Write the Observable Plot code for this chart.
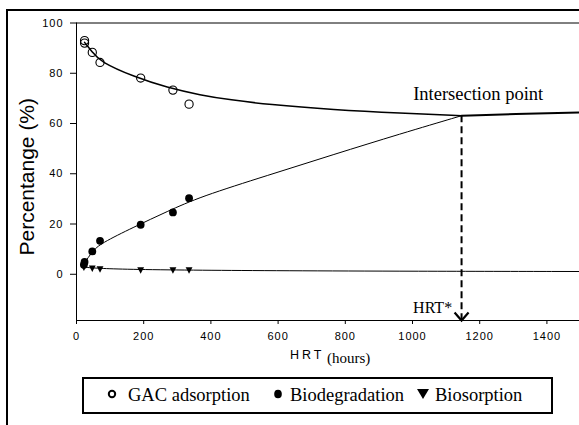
<!DOCTYPE html>
<html>
<head>
<meta charset="utf-8">
<script src="https://cdn.jsdelivr.net/npm/d3@7"></script>
<script src="https://cdn.jsdelivr.net/npm/@observablehq/plot@0.6"></script>
<style>
  html, body { margin: 0; padding: 0; background: #fff; }
  #wrap { position: relative; width: 579px; height: 425px; overflow: hidden; background: #fff; }
  #wrap svg.plot { position: absolute; left: 0; top: 0; }
  #frame { position: absolute; left: 6px; top: 9px; width: 600px; height: 450px; border-left: 2px solid #000; border-top: 2px solid #000; }
  #legend { position: absolute; left: 82px; top: 377px; width: 471px; height: 37px; box-sizing: border-box; border: 2px solid #000;
            font-family: "Liberation Serif", "Times New Roman", serif; font-size: 18.5px; color: #000; }
  #legend .item { position: absolute; top: 0; line-height: 33px; white-space: nowrap; }
  #legend svg { position: absolute; }
  .xlab { position: absolute; white-space: nowrap; color: #000; }
</style>
</head>
<body>
<div id="wrap">
  <div id="frame"></div>
</div>
<script>
// ---- data ----
const xTicks = [0, 200, 400, 600, 800, 1000, 1200, 1400];
const yTicks = [0, 20, 40, 60, 80, 100];
const xDomain = [0, 1497];
const yDomain = [-18.4, 100];

// measured points
const gacX  = [24, 24, 47, 70, 191, 287, 335];
const gacY  = [93, 92, 88.3, 84.3, 78.1, 73.3, 67.7];
const bioX  = [22, 24, 47, 70, 191, 287, 335];
const bioY  = [3.8, 4.9, 9.1, 13.3, 19.7, 24.6, 30.3];
const sorpX = [22, 47, 70, 191, 287, 335];
const sorpY = [2.7, 2.3, 2.0, 1.6, 1.6, 1.6];

// fitted curves
const gacFitX  = [24, 47, 70, 171, 270, 369, 458, 568, 766, 964, 1146];
const gacFitY  = [92.3, 88.5, 84.6, 78.6, 74.3, 71.3, 69.4, 67.6, 65.5, 64.1, 63.1];
const bioFitX  = [22, 47, 71, 171, 270, 369, 568, 766, 964, 1146];
const bioFitY  = [4.1, 9.1, 12.2, 18.8, 25.0, 30.9, 39.3, 47.7, 55.9, 63.1];
const sorpFitX = [22, 71, 170, 369, 607, 1000, 1497];
const sorpFitY = [2.8, 2.3, 1.9, 1.6, 1.4, 1.2, 1.1];
const postX    = [1146, 1301, 1497];
const postY    = [63.1, 63.8, 64.4];

// intersection / HRT*
const hrtX = 1146;
const hrtY = 63.1;

// annotations
const notes = [
  {x: 1002, y: 69.2, text: "Intersection point"},
  {x: 1118, y: -15.5, text: "HRT*"}
];
const yLabel = "Percentange (%)";
const legendNames = ["GAC adsorption", "Biodegradation", "Biosorption"];

// ---- build ----
const zip = (xs, ys) => xs.map((x, i) => ({x, y: ys[i]}));

const triangleDown = {
  draw(ctx, size) {
    const r = Math.sqrt(size / Math.PI);
    ctx.moveTo(-r * 0.95, -r * 0.8);
    ctx.lineTo(r * 0.95, -r * 0.8);
    ctx.lineTo(0, r * 0.95);
    ctx.closePath();
  }
};
const chevron = {
  draw(ctx) {
    ctx.moveTo(-7, -8);
    ctx.lineTo(0, 0);
    ctx.lineTo(7, -8);
  }
};

const serif = "Liberation Serif, Times New Roman, serif";

const chart = Plot.plot({
  width: 579,
  height: 425,
  marginLeft: 76,
  marginRight: 0,
  marginTop: 22.5,
  marginBottom: 105,
  style: {fontFamily: "Liberation Sans, Arial, sans-serif", fontSize: "11px", background: "transparent", color: "#000"},
  x: {domain: xDomain, ticks: xTicks, tickSize: 4, tickPadding: 8, tickFormat: d => String(d), label: null},
  y: {domain: yDomain, ticks: yTicks, tickSize: 6, tickPadding: 7, tickFormat: d => String(d), label: null},
  marks: [
    Plot.ruleY([yDomain[1]], {stroke: "#000", strokeWidth: 1}),
    Plot.ruleY([yDomain[0]], {stroke: "#000", strokeWidth: 1}),
    Plot.ruleX([xDomain[0]], {stroke: "#000", strokeWidth: 1}),
    Plot.line(zip(gacFitX, gacFitY), {x: "x", y: "y", curve: "basis", stroke: "#000", strokeWidth: 1.5}),
    Plot.line(zip(bioFitX, bioFitY), {x: "x", y: "y", curve: "basis", stroke: "#000", strokeWidth: 1}),
    Plot.line(zip(sorpFitX, sorpFitY), {x: "x", y: "y", curve: "basis", stroke: "#000", strokeWidth: 1}),
    Plot.line(zip(postX, postY), {x: "x", y: "y", curve: "basis", stroke: "#000", strokeWidth: 2}),
    Plot.ruleX([hrtX], {y1: hrtY, y2: yDomain[0], stroke: "#000", strokeWidth: 2, strokeDasharray: "7,4"}),
    Plot.dot([{x: hrtX, y: yDomain[0]}], {x: "x", y: "y", symbol: chevron, fill: "none", stroke: "#000", strokeWidth: 2.2, r: 5}),
    Plot.dot(zip(gacX, gacY), {x: "x", y: "y", r: 4.1, fill: "none", stroke: "#000", strokeWidth: 1.1}),
    Plot.dot(zip(bioX, bioY), {x: "x", y: "y", r: 3.9, fill: "#000", stroke: "none"}),
    Plot.dot(zip(sorpX, sorpY), {x: "x", y: "y", r: 3.6, symbol: triangleDown, fill: "#000", stroke: "none"}),
    Plot.text(notes.slice(0, 1), {x: "x", y: "y", text: "text", textAnchor: "start", lineAnchor: "bottom", fontFamily: serif, fontSize: 18.5, fill: "#000"}),
    Plot.text(notes.slice(1), {x: "x", y: "y", text: "text", textAnchor: "end", lineAnchor: "bottom", fontFamily: serif, fontSize: 16, fill: "#000"}),
    Plot.text([yLabel], {frameAnchor: "left", text: d => d, rotate: -90, dx: -49, dy: 5, textAnchor: "middle", lineAnchor: "middle", fontSize: 21, fill: "#000"})
  ]
});
chart.classList.add("plot");
// letter-spaced axis tick labels, as in the reference
chart.querySelectorAll('g[aria-label$="tick label"] text, g[aria-label$="axis"] text').forEach(t => {
  t.style.letterSpacing = "1px";
});
const wrap = document.getElementById("wrap");
wrap.appendChild(chart);

// x-axis title: "HRT (hours)"
const hrt = document.createElement("div");
hrt.className = "xlab";
hrt.style.cssText += "left:290px;top:348px;font-family:'Liberation Sans',Arial,sans-serif;font-size:12.5px;letter-spacing:3px;";
hrt.textContent = "HRT";
wrap.appendChild(hrt);
const hrs = document.createElement("div");
hrs.className = "xlab";
hrs.style.cssText += "left:327px;top:350px;font-family:'Liberation Serif','Times New Roman',serif;font-size:15px;";
hrs.textContent = "(hours)";
wrap.appendChild(hrs);

// legend
const legend = document.createElement("div");
legend.id = "legend";
const ns = "http://www.w3.org/2000/svg";
function marker(kind, cx) {
  const s = document.createElementNS(ns, "svg");
  s.setAttribute("width", 16); s.setAttribute("height", 16);
  s.style.left = (cx - 82 - 2 - 8) + "px";
  s.style.top = (393.5 - 377 - 2 - 8) + "px";
  let el;
  if (kind === "open") {
    el = document.createElementNS(ns, "circle");
    el.setAttribute("cx", 8); el.setAttribute("cy", 8); el.setAttribute("r", 3.2);
    el.setAttribute("fill", "none"); el.setAttribute("stroke", "#000"); el.setAttribute("stroke-width", 2);
  } else if (kind === "filled") {
    el = document.createElementNS(ns, "ellipse");
    el.setAttribute("cx", 8); el.setAttribute("cy", 8); el.setAttribute("rx", 3.8); el.setAttribute("ry", 4.3);
    el.setAttribute("fill", "#000");
  } else {
    el = document.createElementNS(ns, "path");
    el.setAttribute("d", "M2,3 L14,3 L8,13 Z");
    el.setAttribute("fill", "#000");
  }
  s.appendChild(el);
  return s;
}
const items = [
  {kind: "open", mx: 111.7, tx: 128},
  {kind: "filled", mx: 278, tx: 290},
  {kind: "tri", mx: 423.3, tx: 435}
];
items.forEach((it, i) => {
  legend.appendChild(marker(it.kind, it.mx));
  const t = document.createElement("div");
  t.className = "item";
  t.style.left = (it.tx - 82 - 2) + "px";
  t.textContent = legendNames[i];
  legend.appendChild(t);
});
wrap.appendChild(legend);
</script>
</body>
</html>
